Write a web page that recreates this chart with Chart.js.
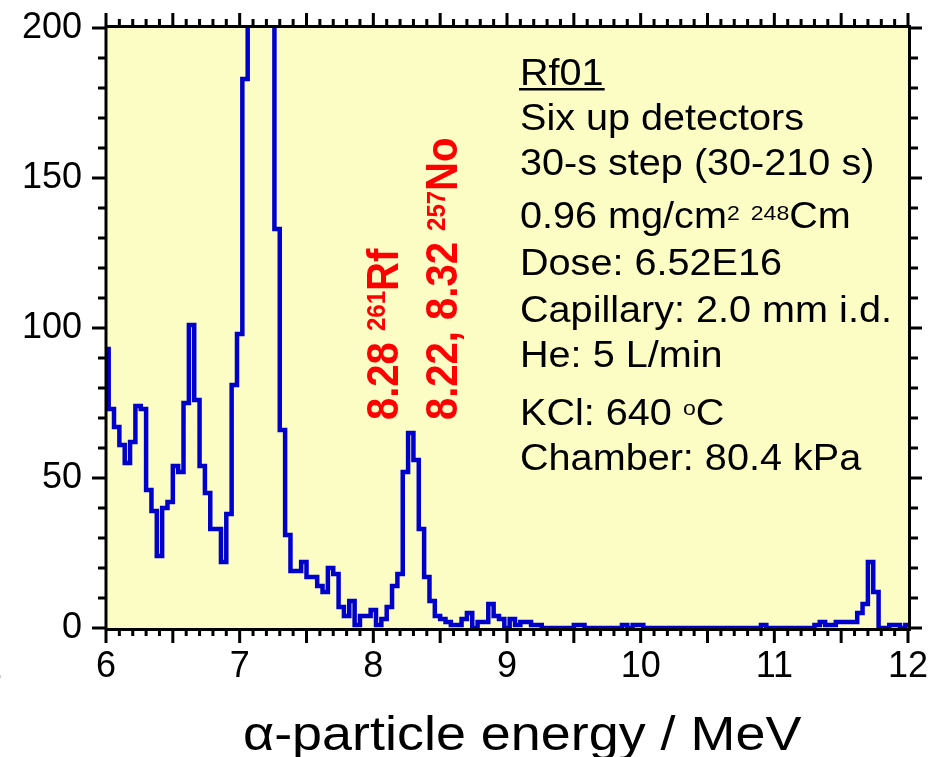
<!DOCTYPE html>
<html>
<head>
<meta charset="utf-8">
<script src="https://cdn.jsdelivr.net/npm/chart.js@4.4.1/dist/chart.umd.min.js"></script>
<style>
  html, body { margin: 0; padding: 0; background: #ffffff; }
  #wrap { position: relative; width: 935px; height: 757px; }
</style>
</head>
<body>
<div id="wrap"><canvas id="spectrum" width="935" height="757"></canvas></div>
<script>
// Histogram bins: centres start at 6.00 MeV, 0.04 MeV wide
const binStart = 6.0;
const binWidth = 0.04;

// Counts per bin, one array per MeV (centres x.00 ... x.96)
const counts6  = [93, 73, 67, 61, 55, 62, 74, 73, 46, 39, 24, 40, 42, 54, 52, 75, 101, 76, 54, 45, 33, 33, 22, 38, 81];
const counts7  = [98, 183, 260, 420, 510, 450, 300, 133, 66, 31, 19, 19, 22, 17, 17, 14, 12, 20, 18, 7, 4, 9, 1, 4, 4];
const counts8  = [6, 1, 3, 7, 14, 18, 52, 65, 56, 33, 17, 9, 4, 3, 2, 1, 1, 3, 5, 0, 2, 2, 8, 4, 3];
const counts9  = [0, 3, 1, 2, 2, 1, 1, 0, 0, 0, 0, 0, 0, 1, 1, 0, 0, 0, 0, 0, 0, 0, 1, 0, 1];
const counts10 = [1, 0, 0, 0, 0, 0, 0, 0, 0, 0, 0, 0, 0, 0, 0, 0, 0, 0, 0, 0, 0, 0, 0, 1, 0];
const counts11 = [0, 0, 0, 0, 0, 0, 0, 0, 1, 2, 1, 1, 2, 2, 2, 2, 5, 8, 22, 12, 0, 0, 1, 1, 0];
const counts12 = [1];

// Axis ticks
const xTickValues = [6, 7, 8, 9, 10, 11, 12];
const yTickValues = [0, 50, 100, 150, 200];

// Run conditions printed inside the plot
const runName = 'Rf01';
const infoLines = [
  'Six up detectors',
  '30-s step (30-210 s)',
  'Dose: 6.52E16',
  'Capillary: 2.0 mm i.d.',
  'He: 5 L/min',
  'Chamber: 80.4 kPa'
];
const xTitle = '\u03b1-particle energy / MeV';

const FAMILY = "'Liberation Sans', Arial, Helvetica, sans-serif";
const allCounts = counts6.concat(counts7, counts8, counts9, counts10, counts11, counts12);
const points = allCounts.map((c, i) => ({ x: +(binStart + i * binWidth).toFixed(2), y: c }));

// Draw a sequence of text runs (normal / superscript) with a slight horizontal stretch
function drawRuns(ctx, runs, x, y, color, stretch) {
  ctx.save();
  ctx.fillStyle = color;
  ctx.textBaseline = 'alphabetic';
  ctx.textAlign = 'left';
  ctx.translate(x, y);
  ctx.scale(stretch, 1);
  let cx = 0;
  runs.forEach(r => {
    ctx.font = (r.weight || 'normal') + ' ' + r.size + 'px ' + FAMILY;
    ctx.fillText(r.t, cx, -(r.rise || 0));
    cx += ctx.measureText(r.t).width;
  });
  ctx.restore();
  return cx * stretch;
}

// Vertical (bottom-to-top) label, glyph height stretched slightly
function drawRotatedRuns(ctx, runs, x, y, color, stretch) {
  ctx.save();
  ctx.fillStyle = color;
  ctx.textBaseline = 'alphabetic';
  ctx.textAlign = 'left';
  ctx.translate(x, y);
  ctx.rotate(-Math.PI / 2);
  ctx.scale(1, stretch);
  let cx = 0;
  runs.forEach(r => {
    ctx.font = (r.weight || 'normal') + ' ' + r.size + 'px ' + FAMILY;
    ctx.fillText(r.t, cx, -(r.rise || 0) / stretch);
    cx += ctx.measureText(r.t).width;
  });
  ctx.restore();
}

const framePlugin = {
  id: 'frameAndNotes',
  beforeDatasetsDraw(chart) {
    const { ctx, chartArea: a } = chart;
    ctx.save();
    ctx.fillStyle = '#fcfcc5';
    ctx.fillRect(a.left, a.top, a.right - a.left, a.bottom - a.top);
    ctx.restore();
  },
  afterDatasetsDraw(chart) {
    const { ctx, chartArea: a, scales } = chart;
    const xs = scales.x, ys = scales.y;
    const L = a.left, R = a.right, T = a.top, B = a.bottom;
    ctx.save();
    ctx.strokeStyle = '#000';
    ctx.lineWidth = 3;
    ctx.lineCap = 'butt';
    ctx.beginPath();
    // frame
    ctx.moveTo(L, T - 1.5); ctx.lineTo(L, B + 3);
    ctx.moveTo(L - 1.5, B + 1.5); ctx.lineTo(R + 3, B + 1.5);
    ctx.moveTo(R + 1.5, B + 3); ctx.lineTo(R + 1.5, T - 3);
    ctx.moveTo(R + 3, T - 1.5); ctx.lineTo(L - 1.5, T - 1.5);
    // energy ticks every 0.1 MeV, longer every 0.5 MeV
    for (let i = 0; i <= 60; i++) {
      const px = xs.getPixelForValue(6 + i / 10);
      const major = i % 5 === 0;
      ctx.moveTo(px, B + 1.5); ctx.lineTo(px, B + (major ? 15 : 8));
      ctx.moveTo(px, T - 1.5); ctx.lineTo(px, T - (major ? 15 : 9));
    }
    // count ticks every 10, longer every 50
    for (let c = 0; c <= 200; c += 10) {
      const py = ys.getPixelForValue(c);
      const major = c % 50 === 0;
      ctx.moveTo(L, py); ctx.lineTo(L - (major ? 14 : 8), py);
      ctx.moveTo(R + 1.5, py); ctx.lineTo(R + (major ? 14 : 10), py);
    }
    ctx.stroke();
    ctx.restore();

    // run description
    const S = 1.1, X0 = 520, F = 36, SUP = 21;
    const w = drawRuns(ctx, [{ t: runName, size: F }], X0, 85, '#000', S);
    ctx.fillStyle = '#000';
    ctx.fillRect(X0 - 1, 88, w + 2, 2.5);
    drawRuns(ctx, [{ t: infoLines[0], size: F }], X0, 130, '#000', S);
    drawRuns(ctx, [{ t: infoLines[1], size: F }], X0, 175, '#000', S);
    drawRuns(ctx, [
      { t: '0.96 mg/cm', size: F },
      { t: '2', size: SUP, rise: 8 },
      { t: ' ', size: F },
      { t: '248', size: SUP, rise: 8 },
      { t: 'Cm', size: F }
    ], X0, 228, '#000', S);
    drawRuns(ctx, [{ t: infoLines[2], size: F }], X0, 275, '#000', S);
    drawRuns(ctx, [{ t: infoLines[3], size: F }], X0, 322, '#000', S);
    drawRuns(ctx, [{ t: infoLines[4], size: F }], X0, 367, '#000', S);
    drawRuns(ctx, [
      { t: 'KCl: 640 ', size: F },
      { t: 'o', size: SUP, rise: 10 },
      { t: 'C', size: F }
    ], X0, 425, '#000', S);
    drawRuns(ctx, [{ t: infoLines[5], size: F }], X0, 470, '#000', S);

    // peak identification labels
    drawRotatedRuns(ctx, [
      { t: '8.28 ', size: 40, weight: 'bold' },
      { t: '261', size: 24, weight: 'bold', rise: 13 },
      { t: 'Rf', size: 40, weight: 'bold' }
    ], 398, 420, '#ff0000', S);
    drawRotatedRuns(ctx, [
      { t: '8.22, 8.32 ', size: 40, weight: 'bold' },
      { t: '257', size: 24, weight: 'bold', rise: 12 },
      { t: 'No', size: 40, weight: 'bold' }
    ], 457, 420, '#ff0000', S);

    // axis title
    drawRuns(ctx, [{ t: xTitle, size: 49 }], 243, 750, '#000', S);
    // clipped label at the left margin
    ctx.save();
    ctx.font = '36px ' + FAMILY;
    ctx.fillStyle = '#000';
    ctx.textAlign = 'right';
    ctx.fillText('2', 2, 678);
    ctx.restore();
  }
};

new Chart(document.getElementById('spectrum'), {
  type: 'line',
  data: {
    datasets: [{
      data: points,
      stepped: 'middle',
      borderColor: '#0000cd',
      borderWidth: 4.5,
      borderJoinStyle: 'miter',
      pointRadius: 0,
      fill: false,
      clip: { left: 0, right: 0, top: 0, bottom: 4 }
    }]
  },
  options: {
    responsive: false,
    animation: false,
    devicePixelRatio: 1,
    layout: { padding: { top: 28, right: 27, left: 0, bottom: 0 } },
    plugins: { legend: { display: false }, tooltip: { enabled: false } },
    scales: {
      x: {
        type: 'linear', min: 6, max: 12,
        grid: { display: false, drawTicks: false },
        border: { display: false },
        afterBuildTicks: s => { s.ticks = xTickValues.map(v => ({ value: v })); },
        ticks: { font: { family: FAMILY, size: 36 }, color: '#000', padding: 17, maxRotation: 0, autoSkip: false },
        afterFit: s => { s.height = 129; s.paddingLeft = 0; s.paddingRight = 0; }
      },
      y: {
        type: 'linear', min: 0, max: 200,
        grid: { display: false, drawTicks: false },
        border: { display: false },
        afterBuildTicks: s => { s.ticks = yTickValues.map(v => ({ value: v })); },
        ticks: { font: { family: FAMILY, size: 36 }, color: '#000', padding: 24 },
        afterFit: s => { s.width = 106; s.paddingTop = 0; s.paddingBottom = 0; }
      }
    }
  },
  plugins: [framePlugin]
});
</script>
</body>
</html>
